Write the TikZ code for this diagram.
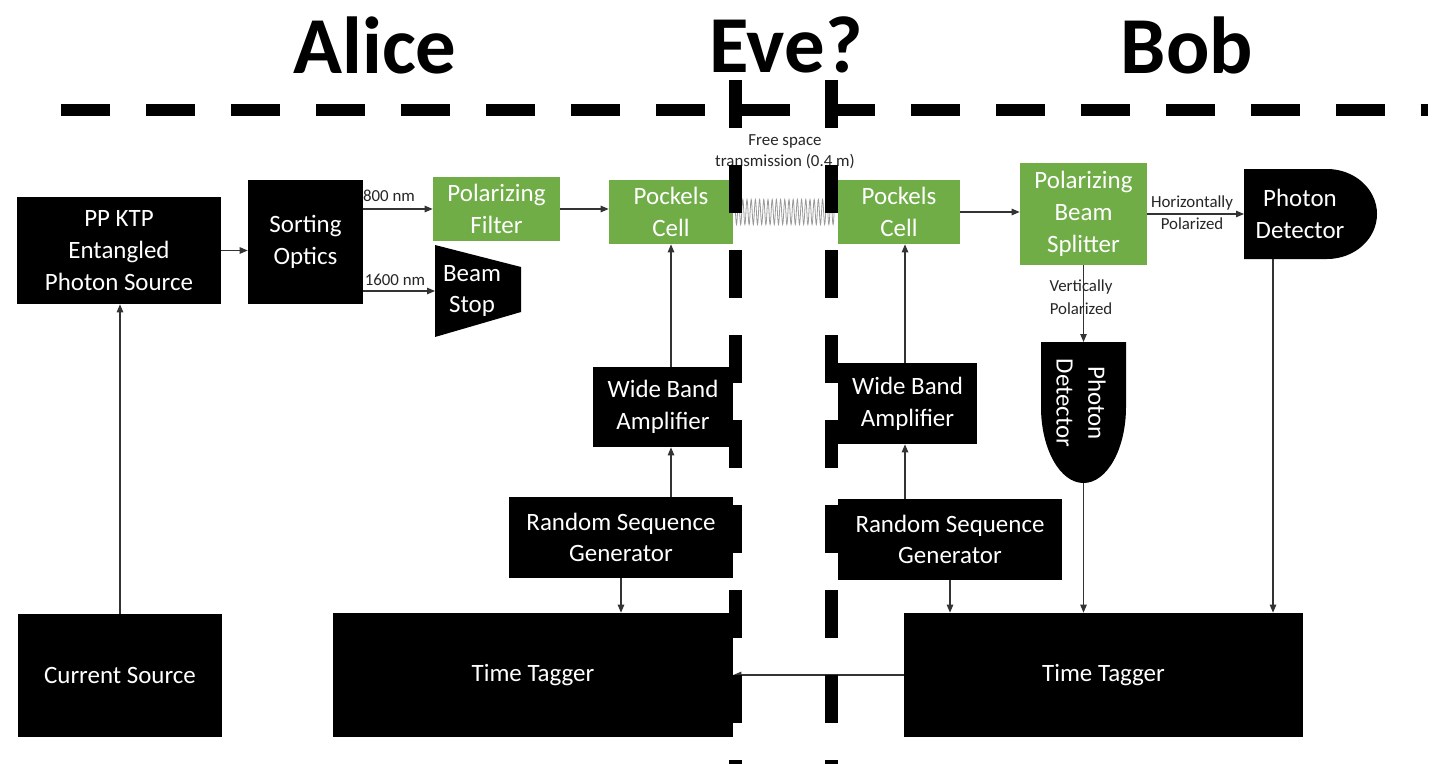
\documentclass[tikz,border=0pt]{standalone}
\usepackage{fontspec}
\setmainfont{Carlito}
\usetikzlibrary{arrows.meta,decorations.pathmorphing,calc}
\definecolor{pgreen}{HTML}{70AD47}
\begin{document}
\begin{tikzpicture}[x=0.02cm,y=-0.02cm,
  blk/.style={fill=black,text=white,draw=none,inner sep=0pt,align=center,font=\fontsize{14.2}{18.1}\selectfont},
  grn/.style={blk,fill=pgreen},
  arr/.style={draw=black!80,line width=0.6pt,-{Triangle[length=0.16cm,width=0.13cm]}},
  lbl/.style={font=\fontsize{9.6}{12}\selectfont,text=black!85,inner sep=0pt,align=center},
  ttl/.style={font=\fontsize{46}{50}\selectfont\bfseries,inner sep=0pt},
  dsh/.style={line width=0.24cm,dash pattern=on 0.98cm off 0.72cm},
  vdsh/.style={line width=0.26cm,dash pattern=on 0.96cm off 0.74cm}
  ]
\useasboundingbox (0,0) rectangle (1437,764);

% titles
\node[ttl] (alice) at (375,45) {Alice};
\node[ttl] (eve) at (786,45) {Eve?};
\node[ttl] (bob) at (1187,45) {Bob};

% boxes
\node[blk,minimum width=4.08cm,minimum height=2.14cm] (src) at (119,250.5) {PP KTP\\Entangled\\Photon Source};
\node[blk,minimum width=2.30cm,minimum height=2.48cm] (sort) at (305.5,242) {Sorting\\Optics};
\node[blk,minimum width=4.08cm,minimum height=2.46cm] (cur) at (120,675.5) {Current Source};
\node[grn,minimum width=2.54cm,minimum height=1.28cm] (pf) at (496.5,209) {Polarizing\\Filter};
\node[grn,minimum width=2.48cm,minimum height=1.28cm] (pc1) at (671,212) {Pockels\\Cell};
\node[grn,minimum width=2.44cm,minimum height=1.28cm] (pc2) at (899,212) {Pockels\\Cell};
\node[grn,minimum width=2.54cm,minimum height=2.04cm] (pbs) at (1083.5,214) {Polarizing\\Beam\\Splitter};
\node[blk,minimum width=2.80cm,minimum height=1.60cm] (amp1) at (663,407) {Wide Band\\Amplifier};
\node[blk,minimum width=4.48cm,minimum height=1.62cm] (rsg1) at (621,537.5) {Random Sequence\\Generator};
\node[blk,minimum width=8.00cm,minimum height=2.48cm] (tt1) at (533,675) {Time Tagger};
\node[blk,minimum width=2.78cm,minimum height=1.62cm] (amp2) at (907.5,403.5) {Wide Band\\Amplifier};
\node[blk,minimum width=4.48cm,minimum height=1.62cm] (rsg2) at (950,539.5) {Random Sequence\\Generator};
\node[blk,minimum width=7.98cm,minimum height=2.48cm] (tt2) at (1103.5,675) {Time Tagger};

% beam stop
\fill[black] (435,245) -- (521,267) -- (521,312) -- (435,337) -- cycle;
\node[blk,fill=none] (bs) at (472,291) {Beam\\Stop};
\coordinate (bsin) at (435,291);

% photon detectors
\fill[black] (1244,169) -- (1327,169) arc[start angle=-90,end angle=90,x radius=50,y radius=45] -- (1244,259) -- cycle;
\node[blk,fill=none] (pd1) at (1300,214) {Photon\\Detector};
\coordinate (pd1in) at (1244,214);
\coordinate (pd1b) at (1273,259);

\fill[black] (1041,342) -- (1126,342) -- (1126,407) arc[start angle=0,end angle=180,x radius=42.5,y radius=76] -- cycle;
\node[blk,fill=none,rotate=-90] (pd2) at (1081,403) {Photon\\Detector};
\coordinate (pd2t) at (1083.5,342);
\coordinate (pd2b) at (1083.5,483);

% connectors
\draw[arr] (src.east) -- (src.east -| sort.west);
\draw[arr] (cur.north) -- (cur.north |- src.south);
\draw[arr] (sort.east |- pf.west) -- (pf.west);
\node[lbl] (l800) at (389,196) {800 nm};
\draw[arr] (sort.east |- bsin) -- (bsin);
\node[lbl] (l1600) at (395,280) {1600 nm};
\draw[arr] (pf.east) -- (pf.east -| pc1.west);
\draw[black!40,line width=0.45pt,decorate,decoration={coil,aspect=0,segment length=0.084cm,amplitude=0.25cm}] (pc1.east) -- (pc2.west);
\node[lbl] (fs) at (785,152) {Free space\\transmission (0.4 m)};
\draw[arr] (pc2.east) -- (pc2.east -| pbs.west);
\draw[arr] (pbs.east) -- (pd1in);
\node[lbl] (lh) at (1192,203) {Horizontally};
\node[lbl] (lhp) at (1192,224) {Polarized};
\draw[arr] (pbs.south) -- (pd2t);
\node[lbl] (lv) at (1081,287) {Vertically};
\node[lbl] (lvp) at (1081,309) {Polarized};
\draw[arr] (pd1b) -- (pd1b |- tt2.north);
\draw[arr] (pd2b) -- (pd2b |- tt2.north);

\draw[arr] (amp1.north -| pc1.south) -- (pc1.south);
\draw[arr] (rsg1.north -| pc1.south) -- (amp1.south -| pc1.south);
\draw[arr] (rsg1.south) -- (rsg1.south |- tt1.north);
\draw[arr] ([xshift=-0.05cm]amp2.north) -- ([xshift=-0.05cm]amp2.north |- pc2.south);
\draw[arr] ([xshift=-0.05cm]amp2.south |- rsg2.north) -- ([xshift=-0.05cm]amp2.south);
\draw[arr] (rsg2.south) -- (rsg2.south |- tt2.north);
\draw[arr] (tt2.west) -- (tt1.east);

% dashed boundaries
\draw[dsh] (61,110) -- (1428,110);
\draw[vdsh] (735.5,80) -- (735.5,764);
\draw[vdsh] (831,80) -- (831,764);
\end{tikzpicture}
\end{document}
